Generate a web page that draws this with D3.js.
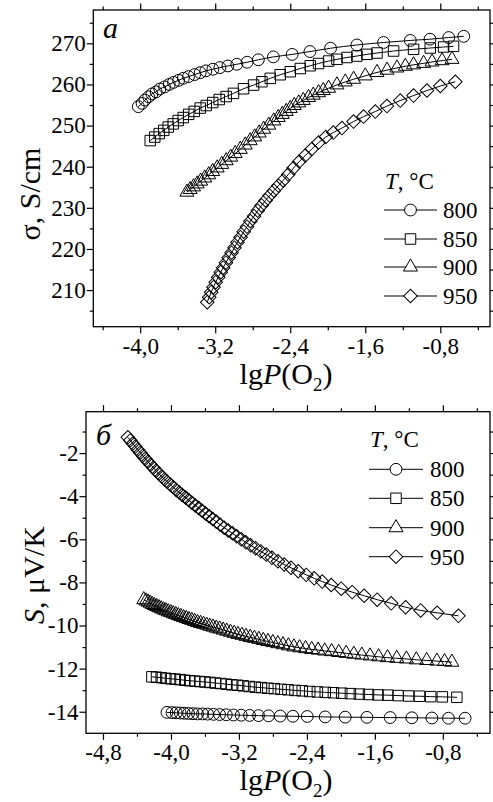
<!DOCTYPE html>
<html>
<head>
<meta charset="utf-8">
<script src="https://cdn.jsdelivr.net/npm/d3@7"></script>
<style>
  body { margin: 0; background: #fff; }
  svg { display: block; }
  svg text { font-family: "Liberation Serif", "Times New Roman", Times, serif; }
</style>
</head>
<body>
<svg id="chart" width="493" height="802"></svg>
<script>
// ---- Panel (a): conductivity σ vs lgP(O2) ----
const topLgP800 = [-4.02,-3.98,-3.95,-3.91,-3.875,-3.83,-3.79,-3.74,-3.69,-3.645,-3.59,-3.54,-3.485,-3.42,-3.36,-3.30,-3.225,-3.15,-3.065,-2.97,-2.86,-2.74,-2.58,-2.38,-2.19,-1.97,-1.69,-1.405,-1.12,-0.91,-0.71,-0.55];
const topSigma800 = [254.6,255.4,256.2,257.0,257.7,258.2,258.9,259.4,260.0,260.5,261.0,261.5,261.9,262.4,262.85,263.3,263.7,264.1,264.5,264.9,265.4,266.0,266.7,267.3,268.0,268.8,269.6,270.2,270.7,271.0,271.4,271.7];

const topLgP850 = [-3.893,-3.845,-3.797,-3.749,-3.701,-3.648,-3.595,-3.541,-3.483,-3.424,-3.36,-3.296,-3.227,-3.157,-3.083,-3.005,-2.898,-2.791,-2.702,-2.613,-2.507,-2.4,-2.293,-2.187,-2.098,-1.991,-1.902,-1.795,-1.689,-1.582,-1.475,-1.298,-1.085,-0.907,-0.765,-0.659];
const topSigma850 = [246.35,247.2,248.05,248.83,249.64,250.41,251.22,251.95,252.73,253.45,254.26,254.87,255.6,256.33,257.06,257.83,258.95,259.85,260.66,261.48,262.36,263.09,263.87,264.55,265.09,265.69,266.11,266.55,266.91,267.32,267.64,268.13,268.54,268.86,269.1,269.27];

const topLgP900 = [-3.502,-3.467,-3.431,-3.392,-3.355,-3.312,-3.269,-3.227,-3.179,-3.131,-3.083,-3.035,-2.987,-2.933,-2.88,-2.827,-2.779,-2.731,-2.683,-2.629,-2.576,-2.528,-2.485,-2.443,-2.4,-2.357,-2.309,-2.261,-2.205,-2.155,-2.098,-2.048,-1.991,-1.902,-1.813,-1.724,-1.6,-1.475,-1.368,-1.262,-1.173,-1.085,-0.978,-0.888,-0.781,-0.675];
const topSigma900 = [233.82,234.45,235.11,235.82,236.5,237.27,238.05,238.83,239.71,240.58,241.46,242.34,243.21,244.23,245.28,246.33,247.25,248.2,249.12,250.12,251.14,251.97,252.73,253.45,254.18,254.89,255.52,256.13,256.84,257.4,258.0,258.52,259.08,259.9,260.61,261.27,262.09,262.92,263.48,264.01,264.43,264.77,265.13,265.47,265.79,266.11];

const topLgP950 = [-3.285,-3.264,-3.243,-3.219,-3.195,-3.168,-3.141,-3.115,-3.086,-3.056,-3.026,-2.995,-2.963,-2.93,-2.896,-2.861,-2.825,-2.786,-2.747,-2.706,-2.663,-2.62,-2.574,-2.526,-2.475,-2.421,-2.365,-2.304,-2.24,-2.171,-2.098,-2.021,-1.941,-1.849,-1.725,-1.618,-1.493,-1.369,-1.227,-1.085,-0.942,-0.8,-0.64];
const topSigma950 = [207.06,208.27,209.49,210.71,211.92,213.14,214.36,215.45,216.67,217.88,219.1,220.32,221.65,222.87,224.21,225.43,226.76,227.98,229.32,230.58,231.8,232.97,234.18,235.4,236.67,238.08,239.66,241.24,242.7,244.28,245.86,247.2,248.3,249.39,250.97,252.19,253.41,254.74,256.08,257.3,258.52,259.61,260.66];

// ---- Panel (б): thermo-EMF S vs lgP(O2) ----
const botLgP800 = [-4.047,-3.988,-3.938,-3.891,-3.844,-3.793,-3.741,-3.687,-3.628,-3.569,-3.499,-3.428,-3.349,-3.264,-3.173,-3.075,-2.969,-2.852,-2.714,-2.565,-2.396,-2.185,-1.949,-1.694,-1.42,-1.165,-0.929,-0.734,-0.538];
const botS800 = [-14.03,-14.04,-14.05,-14.06,-14.07,-14.08,-14.09,-14.10,-14.10,-14.11,-14.12,-14.13,-14.14,-14.15,-14.16,-14.17,-14.18,-14.19,-14.20,-14.21,-14.22,-14.24,-14.25,-14.26,-14.27,-14.28,-14.29,-14.30,-14.30];

const botLgP850 = [-4.224,-4.17,-4.115,-4.06,-4.005,-3.95,-3.893,-3.836,-3.778,-3.72,-3.66,-3.6,-3.54,-3.478,-3.415,-3.35,-3.285,-3.218,-3.15,-3.08,-3.008,-2.935,-2.86,-2.783,-2.704,-2.623,-2.54,-2.455,-2.367,-2.277,-2.184,-2.088,-1.99,-1.888,-1.783,-1.675,-1.563,-1.447,-1.327,-1.203,-1.075,-0.943,-0.806,-0.635];
const botS850 = [-12.38,-12.40,-12.42,-12.45,-12.47,-12.49,-12.51,-12.54,-12.56,-12.58,-12.60,-12.62,-12.64,-12.67,-12.69,-12.72,-12.75,-12.77,-12.80,-12.83,-12.86,-12.88,-12.91,-12.93,-12.96,-12.98,-13.01,-13.03,-13.06,-13.08,-13.10,-13.12,-13.14,-13.16,-13.18,-13.20,-13.22,-13.23,-13.25,-13.27,-13.28,-13.30,-13.31,-13.33];

const botLgP900 = [-4.32,-4.295,-4.27,-4.245,-4.22,-4.194,-4.168,-4.142,-4.115,-4.088,-4.06,-4.032,-4.003,-3.974,-3.944,-3.914,-3.883,-3.852,-3.82,-3.788,-3.755,-3.721,-3.687,-3.652,-3.616,-3.58,-3.543,-3.505,-3.466,-3.426,-3.385,-3.343,-3.3,-3.256,-3.211,-3.165,-3.117,-3.068,-3.018,-2.966,-2.913,-2.858,-2.801,-2.742,-2.681,-2.618,-2.553,-2.486,-2.416,-2.343,-2.268,-2.19,-2.109,-2.025,-1.938,-1.848,-1.754,-1.657,-1.556,-1.451,-1.342,-1.229,-1.112,-0.99,-0.87,-0.78,-0.694];
const botS900 = [-8.80,-8.86,-8.91,-8.96,-9.02,-9.07,-9.12,-9.17,-9.22,-9.27,-9.31,-9.36,-9.40,-9.45,-9.49,-9.54,-9.58,-9.63,-9.67,-9.72,-9.76,-9.81,-9.86,-9.90,-9.94,-9.98,-10.03,-10.07,-10.12,-10.16,-10.21,-10.26,-10.31,-10.36,-10.41,-10.45,-10.50,-10.55,-10.59,-10.64,-10.69,-10.74,-10.79,-10.84,-10.89,-10.94,-10.99,-11.03,-11.07,-11.11,-11.14,-11.18,-11.21,-11.25,-11.29,-11.33,-11.37,-11.41,-11.45,-11.49,-11.52,-11.55,-11.59,-11.62,-11.65,-11.67,-11.70];

const botLgP950 = [-4.508,-4.479,-4.449,-4.42,-4.391,-4.361,-4.332,-4.302,-4.271,-4.239,-4.207,-4.175,-4.142,-4.109,-4.076,-4.044,-4.008,-3.973,-3.938,-3.902,-3.867,-3.829,-3.792,-3.754,-3.714,-3.674,-3.634,-3.593,-3.551,-3.508,-3.465,-3.42,-3.373,-3.326,-3.276,-3.226,-3.173,-3.119,-3.062,-3.004,-2.942,-2.879,-2.812,-2.741,-2.667,-2.588,-2.502,-2.408,-2.314,-2.22,-2.114,-1.996,-1.867,-1.726,-1.573,-1.408,-1.238,-1.061,-0.867,-0.616];
const botS950 = [-1.27,-1.41,-1.56,-1.70,-1.84,-1.98,-2.12,-2.26,-2.40,-2.54,-2.68,-2.82,-2.96,-3.09,-3.21,-3.33,-3.46,-3.58,-3.71,-3.83,-3.94,-4.06,-4.18,-4.30,-4.43,-4.55,-4.67,-4.80,-4.93,-5.06,-5.19,-5.32,-5.46,-5.59,-5.72,-5.86,-6.00,-6.14,-6.28,-6.41,-6.56,-6.71,-6.86,-7.02,-7.17,-7.32,-7.48,-7.65,-7.81,-7.96,-8.12,-8.29,-8.45,-8.62,-8.80,-8.97,-9.15,-9.30,-9.41,-9.55];

const temperatures = ["800", "850", "900", "950"];

// Axis ticks
const topXTicks = [-4.0, -3.2, -2.4, -1.6, -0.8];
const topXMinor = [-4.4, -3.6, -2.8, -2.0, -1.2, -0.4];
const topYTicks = [210, 220, 230, 240, 250, 260, 270];
const topYMinor = [205, 215, 225, 235, 245, 255, 265, 275];
const botXTicks = [-4.8, -4.0, -3.2, -2.4, -1.6, -0.8];
const botXMinor = [-4.4, -3.6, -2.8, -2.0, -1.2, -0.4];
const botYTicks = [-14, -12, -10, -8, -6, -4, -2];
const botYMinor = [-13, -11, -9, -7, -5, -3, -1];

// ---- drawing ----
const SERIF = "Liberation Serif, Times New Roman, Times, serif";
const svg = d3.select("#chart");

const markerKinds = ["circle", "square", "triangle", "diamond"];
function markerPath(kind) {
  if (kind === "circle") return d3.symbol(d3.symbolCircle, 110)();
  if (kind === "square") return d3.symbol(d3.symbolSquare, 110)();
  if (kind === "triangle") return d3.symbol(d3.symbolTriangle, 85)();
  return d3.symbol(d3.symbolSquare, 92)();
}
function markerRotate(kind) { return kind === "diamond" ? " rotate(45)" : ""; }

const fmtX = d => d3.format(".1f")(d).replace("\u2212", "-").replace(".", ",");
const fmtY = d => d3.format("d")(d).replace("\u2212", "-");

function styleAxis(a) {
  a.select(".domain").remove();
  a.attr("font-family", null).attr("font-size", null);
  a.selectAll("line").attr("stroke", "#000").attr("stroke-width", 1.2);
  a.selectAll("text").attr("font-family", SERIF).attr("font-size", 23).attr("fill", "#000");
}

function drawPanel(p) {
  const x = d3.scaleLinear().domain(p.xDomain).range([p.left, p.right]);
  const y = d3.scaleLinear().domain(p.yDomain).range([p.bottom, p.top]);
  const g = svg.append("g");

  const maj = 6.5, min = 3.5;
  // bottom / top
  styleAxis(g.append("g").attr("transform", `translate(0,${p.bottom})`)
    .call(d3.axisBottom(x).tickValues(p.xTicks).tickSize(maj).tickPadding(4).tickFormat(fmtX)));
  styleAxis(g.append("g").attr("transform", `translate(0,${p.bottom})`)
    .call(d3.axisBottom(x).tickValues(p.xMinor).tickSize(min).tickFormat("")));
  styleAxis(g.append("g").attr("transform", `translate(0,${p.top})`)
    .call(d3.axisTop(x).tickValues(p.xTicks).tickSize(maj).tickFormat("")));
  styleAxis(g.append("g").attr("transform", `translate(0,${p.top})`)
    .call(d3.axisTop(x).tickValues(p.xMinor).tickSize(min).tickFormat("")));
  // left / right
  styleAxis(g.append("g").attr("transform", `translate(${p.left},0)`)
    .call(d3.axisLeft(y).tickValues(p.yTicks).tickSize(maj).tickPadding(1).tickFormat(fmtY)));
  styleAxis(g.append("g").attr("transform", `translate(${p.left},0)`)
    .call(d3.axisLeft(y).tickValues(p.yMinor).tickSize(min).tickFormat("")));
  styleAxis(g.append("g").attr("transform", `translate(${p.right},0)`)
    .call(d3.axisRight(y).tickValues(p.yTicks).tickSize(maj).tickFormat("")));
  styleAxis(g.append("g").attr("transform", `translate(${p.right},0)`)
    .call(d3.axisRight(y).tickValues(p.yMinor).tickSize(min).tickFormat("")));

  // frame
  g.append("rect")
    .attr("x", p.left).attr("y", p.top)
    .attr("width", p.right - p.left).attr("height", p.bottom - p.top)
    .attr("fill", "none").attr("stroke", "#000").attr("stroke-width", 1.3);

  // series: thin connecting curve plus open markers
  const line = d3.line().x(d => x(d[0])).y(d => y(d[1])).curve(d3.curveMonotoneX);
  p.series.forEach((s, i) => {
    const pts = s.xs.map((v, k) => [v, s.ys[k]]);
    const kind = markerKinds[i];
    g.append("path").attr("d", line(pts))
      .attr("fill", "none").attr("stroke", "#000").attr("stroke-width", 1);
    g.append("g").selectAll("path").data(pts).join("path")
      .attr("d", markerPath(kind))
      .attr("transform", d => `translate(${x(d[0])},${y(d[1])})${markerRotate(kind)}`)
      .attr("fill", "none").attr("stroke", "#000").attr("stroke-width", 1);
  });

  // panel letter
  g.append("text").attr("x", p.letterX).attr("y", p.letterY)
    .attr("font-family", SERIF).attr("font-style", "italic").attr("font-size", 30)
    .text(p.letter);

  // x title: lgP(O2)
  const xt = g.append("text").attr("x", p.xTitleX).attr("y", p.xTitleY)
    .attr("text-anchor", "middle").attr("font-family", SERIF).attr("font-size", 30);
  xt.append("tspan").text("lg");
  xt.append("tspan").attr("font-style", "italic").text("P");
  xt.append("tspan").text("(O");
  xt.append("tspan").attr("font-size", 19).attr("dy", 7).text("2");
  xt.append("tspan").attr("dy", -7).text(")");

  // y title
  const yt = g.append("text")
    .attr("transform", `translate(${p.yTitleX},${p.yTitleY}) rotate(-90)`)
    .attr("text-anchor", "middle").attr("font-family", SERIF).attr("font-size", 30);
  p.yTitle.forEach(part => {
    const ts = yt.append("tspan").text(part.t);
    if (part.italic) ts.attr("font-style", "italic");
  });

  // legend
  const lg = g.append("g");
  const title = lg.append("text").attr("x", p.legX).attr("y", p.legTitleY)
    .attr("font-family", SERIF).attr("font-size", 23);
  title.append("tspan").attr("font-style", "italic").text("T");
  title.append("tspan").text(", \u00B0C");
  temperatures.forEach((t, i) => {
    const cy = p.legRows[i];
    const kind = markerKinds[i];
    lg.append("line").attr("x1", p.legLineX0).attr("x2", p.legLineX1)
      .attr("y1", cy).attr("y2", cy).attr("stroke", "#000").attr("stroke-width", 1);
    lg.append("path").attr("d", markerPath(kind))
      .attr("transform", `translate(${(p.legLineX0 + p.legLineX1) / 2},${cy})${markerRotate(kind)}`)
      .attr("fill", "#fff").attr("stroke", "#000").attr("stroke-width", 1);
    lg.append("text").attr("x", p.legTextX).attr("y", cy + 8)
      .attr("font-family", SERIF).attr("font-size", 23).text(t);
  });
}

drawPanel({
  left: 93.3, right: 490, top: 10, bottom: 326.7,
  xDomain: [-4.5, -0.27], yDomain: [201.1, 278.1],
  xTicks: topXTicks, xMinor: topXMinor, yTicks: topYTicks, yMinor: topYMinor,
  series: [
    { xs: topLgP800, ys: topSigma800 },
    { xs: topLgP850, ys: topSigma850 },
    { xs: topLgP900, ys: topSigma900 },
    { xs: topLgP950, ys: topSigma950 }
  ],
  letter: "a", letterX: 103, letterY: 38,
  xTitleX: 286, xTitleY: 384,
  yTitleX: 40, yTitleY: 194,
  yTitle: [{ t: "\u03C3,  S/cm" }],
  legX: 385, legTitleY: 189, legRows: [210, 239, 267, 296],
  legLineX0: 384, legLineX1: 437, legTextX: 443
});

drawPanel({
  left: 86, right: 490, top: 411.7, bottom: 733.3,
  xDomain: [-5.0, -0.245], yDomain: [-15, -0.08],
  xTicks: botXTicks, xMinor: botXMinor, yTicks: botYTicks, yMinor: botYMinor,
  series: [
    { xs: botLgP800, ys: botS800 },
    { xs: botLgP850, ys: botS850 },
    { xs: botLgP900, ys: botS900 },
    { xs: botLgP950, ys: botS950 }
  ],
  letter: "\u0431", letterX: 96, letterY: 445,
  xTitleX: 286, xTitleY: 790,
  yTitleX: 44, yTitleY: 575,
  yTitle: [{ t: "S", italic: true }, { t: ",  \u03BCV/K" }],
  legX: 370, legTitleY: 447, legRows: [469.3, 498.3, 527.7, 556.7],
  legLineX0: 369, legLineX1: 423, legTextX: 430
});
</script>
</body>
</html>
